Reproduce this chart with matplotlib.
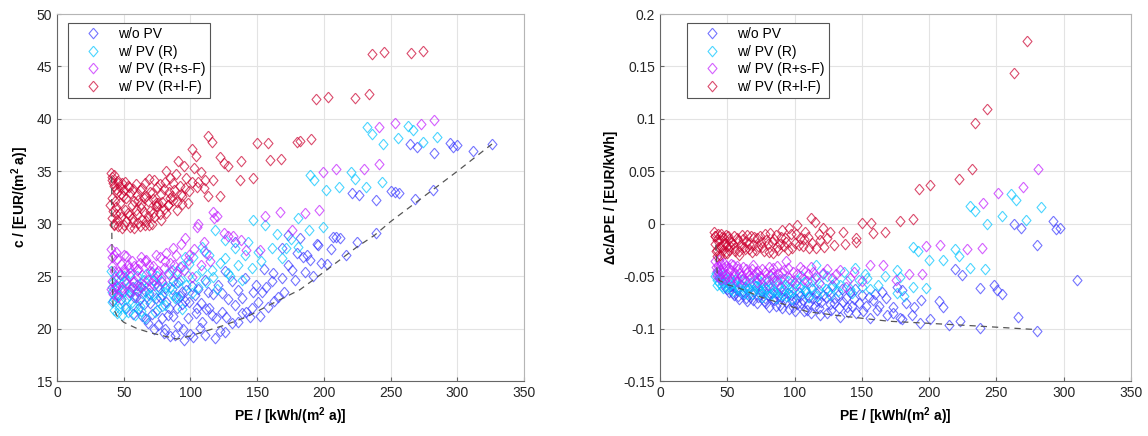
import numpy as np
import matplotlib
matplotlib.use('Agg')
import matplotlib.pyplot as plt

plt.rcParams['font.family'] = ['Liberation Sans', 'DejaVu Sans']
plt.rcParams['mathtext.fontset'] = 'custom'
plt.rcParams['mathtext.rm'] = 'Liberation Sans'
plt.rcParams['mathtext.bf'] = 'Liberation Sans:bold'

labels = ['w/o PV', 'w/ PV (R)', 'w/ PV (R+s-F)', 'w/ PV (R+l-F)']

# ---------- left panel: c over PE ----------
blue_c = [(42,22.6),(44,24.0),(46,23.2),(48,22.8),(50,24.5),(52,22.0),(55,23.5),(57,21.4),(60,24.2),(62,22.8),
          (64,21.2),(66,23.6),(68,20.5),(70,22.4),(72,24.6),(73,20.0),(75,21.8),(75.9,20.3),(77,23.0),(78.5,23.2),
          (80,19.6),(81,20.0),(82,22.5),(83.4,21.3),(85,19.3),(86,23.8),(87,24.5),(88.5,19.4),(90,22.0),(91,20.2),
          (92,23.1),(93.4,23.5),(94.7,20.0),(95,18.9),(96,22.6),(98.4,21.0),(100,19.5),(102.2,19.2),(103.4,23.2),
          (105,22.0),(107,20.1),(109,20.6),(110.9,19.4),(112,21.9),(113.4,23.5),(115.9,21.3),(118.4,19.07),
          (120.9,24.2),(122,19.8),(123.4,21.6),(126,19.7),(126,25.5),(128,22.8),(130.9,24.5),(133.4,22.25),
          (133.4,28.3),(135.9,20.65),(138.4,22.9),(140.9,24.8),(142,21.6),(144.7,21.1),(147,23.5),(150.9,22.55),
          (153.4,23.5),(155,25.7),(157,24.0),(160.9,24.5),(163,22.6),(168.4,24.8),(168.4,27.65),(170,23.5),
          (173.4,26.1),(173.4,28.9),(178.4,24.6),(182,28.6),(184.6,26.85),(187.2,27.0),(189.7,26.5),(192,25.0),
          (195.1,28.1),(195.9,28.0),(202.6,26.2),(207.1,28.76),(209,28.7),(212,28.6),(216.4,27.0),(220.9,32.96),
          (225.1,28.3),(226.6,32.74),(238.9,32.26),(239.1,29.1),(250.1,33.1),(253,33.0),(256.1,32.96),(264.6,37.6),
          (268.4,32.4),(270.1,37.35),(282.1,33.2),(282.6,36.7),(294.6,37.7),(297,37.3),(299.6,37.5),(312,36.9),
          (325.8,37.6),
          (58,23.0),(61,21.9),(63,24.0),(65,22.3),(67,20.9),(69,23.4),(71,21.4),(74,22.9),(76,24.1),(79,21.0),
          (81,23.9),(84,22.0),(87,21.2),(89,23.0),(91,24.4),(94,22.3),(97,23.7),(99,22.5),(101,24.1),(104,21.5),
          (106,23.8),(108,22.4),(111,24.6),(114,22.0),(117,23.3),(119,21.0),(124,23.4),(127,21.1),(131,20.5),
          (136,23.7),(139,21.5),(146,22.0),(149,24.2),(152,21.2),(158,22.1),(162,25.3),(166,23.0),(176,25.6),
          (180,27.2),(186,25.4),(198,26.3),(205,27.6)]
cyan_c = [(40.5,25.5),(41,23.5),(41.5,22.5),(42,24.4),(43,21.8),(43.5,25.0),(44,23.0),(45,21.5),(46,24.0),(47,22.4),
          (48,25.1),(49,21.3),(50,23.6),(51,22.0),(52,24.6),(53.4,21.6),(54,23.2),(55,25.3),(56,22.5),(57,24.0),
          (58.5,21.3),(59,23.0),(60,25.0),(62,22.2),(63,24.3),(64,23.4),(66,21.0),(67,25.2),(68,22.8),(70,24.0),
          (72,23.3),(73.5,21.6),(75,25.0),(76,22.6),(78,24.5),(80,23.5),(81,22.25),(83,25.3),(85,24.0),(87,23.2),
          (88.5,22.9),(90,25.5),(92,24.6),(93.5,21.9),(95.9,26.85),(97,24.2),(99,26.2),(101,23.4),(104,25.0),
          (108.4,27.8),(110,27.4),(112,24.4),(115.9,25.6),(118.4,29.4),(120,23.8),(126,28.45),(125.9,26.7),
          (130,25.0),(133.4,27.65),(135.9,26.1),(138.4,24.6),(140.9,27.0),(145.9,25.75),(147.2,30.35),(150.9,27.3),
          (156,29.9),(160.9,27.65),(168.4,26.7),(175,28.5),(180.9,30.5),(180.9,27.8),(189.1,29.4),(189.7,34.65),
          (192.9,34.2),(199.6,29.7),(201.4,33.2),(211.6,33.5),(220.4,34.9),(223.4,34.3),(231.6,33.5),(232.1,39.2),
          (235.9,38.6),(243.4,34.0),(244.1,37.6),(255.6,38.15),(262.9,39.35),(267.1,38.9),(274.6,37.8),(285.1,38.3),
          (41,24.0),(42.5,22.8),(44.5,24.6),(46.5,22.0),(48.5,23.7),(50.5,25.0),(52.5,22.9),(55.5,23.8),(57.5,22.2),
          (61,23.6),(63,21.7),(65,24.6),(69,23.2),(71,25.4),(74,24.3),(77,23.8),(79,22.2),(82,24.0),(86,25.6),
          (89,24.3),(91,23.0),(94,26.0),(98,25.0),(102,26.8),(106,24.0),(109,25.6),(114,27.0),(117,24.9),
          (122,26.3),(128,25.3),(143,28.3),(153,26.4),(165,29.0),(172,27.7)]
magenta_c = [(40.5,27.6),(41,26.0),(41.5,24.5),(42,23.3),(42.5,27.0),(43,25.5),(44,24.2),(45,26.6),(46,23.0),(47,25.2),
             (48,26.2),(49,24.0),(50,27.0),(51,25.4),(52,24.3),(53,26.1),(54,23.5),(55,25.0),(56,26.4),(57,24.4),
             (58,24.5),(59,23.0),(60,25.6),(61,25.7),(62,24.0),(63,26.8),(64,25.1),(66,26.4),(67,26.5),(68,24.6),
             (70,25.5),(72,26.0),(73,24.2),(75,25.3),(77,26.85),(78,24.8),(80,25.8),(82,27.2),(85,26.3),(87,27.65),
             (88,26.1),(90,25.2),(93,28.1),(95,25.6),(96,28.6),(99,27.0),(101,24.95),(105,29.7),(106,30.0),(108,26.1),
             (112,27.2),(117,31.15),(118,30.5),(120,30.7),(125,29.1),(128,28.8),(132,28.8),(138,28.4),(142,27.5),
             (152,27.5),(156,30.7),(167,31.15),(176,29.4),(186,31.0),(196,31.3),(199.6,34.9),(209,35.2),(230,35.2),
             (241,35.7),(241.6,39.25),(253,39.6),(272.6,39.5),(282.6,39.9),
             (40.5,23.8),(41.5,26.8),(43,23.9),(44.5,27.3),(46,25.4),(48,23.6),(50,25.7),(52,26.9),(54,25.8),
             (56,24.0),(58,26.0),(60,23.6),(62,26.3),(65,24.2),(69,26.1),(71,24.3),(74,27.0),(76,25.5),(79,24.4),
             (81,26.4),(84,25.2),(89,27.0),(92,25.9),(98,26.5),(103,27.6),(110,28.3),(115,26.4)]
red_c = [(40.5,34.8),(41,34.5),(41.5,34.2),(42,33.9),(42.5,33.6),(43,34.6),(44,33.3),(45,33.0),(46,34.1),(47,33.5),
         (48,32.8),(49,33.9),(50,33.2),(52,32.5),(53,33.6),(55,32.9),(57,33.3),(58,32.2),(60,32.7),(62,33.2),
         (63,31.9),(65,32.5),(66,33.9),(68,32.2),(70,33.0),(72,32.4),(73,34.2),(75,33.5),(76,32.0),(78,32.8),
         (80,33.3),(82,35.0),(83,31.8),(85,34.4),(86,32.6),(88,33.2),(90,32.1),(91,36.0),(93,32.8),(95,35.5),
         (96,33.4),(98,32.0),(101,34.0),(101,37.1),(104,36.5),(105,33.5),(108,34.9),(111,34.2),(113,38.4),
         (113,32.6),(116,37.8),(117,34.2),(122,36.4),(122,32.6),(125,35.8),(128,35.5),(137,34.2),(138,36.0),
         (147,34.4),(150,37.7),(158,37.7),(160,36.05),(168,36.2),(180,37.8),(182,37.9),(190,38.1),
         (40,31.8),(41,30.5),(42,31.2),(43,30.0),(44,31.6),(45,30.4),(46,29.8),(47,31.0),(48,30.6),(50,29.9),
         (51,31.3),(52,30.3),(54,30.8),(55,29.7),(57,30.2),(58,29.6),(60,30.9),(61,30.1),(63,31.5),(64,30.4),
         (66,29.9),(68,30.7),(70,31.2),(71,30.0),(73,30.6),(75,31.7),(77,30.9),(80,31.4),(83,31.8),(87,32.3),
         (41.5,32.5),(43.5,32.2),(45.5,33.9),(47.5,32.0),(49.5,32.6),(51,34.0),(54,33.5),(56,31.8),(59,33.8),
         (61,32.3),(64,33.4),(67,32.6),(69,34.3),(71,32.9),(74,31.7),(77,33.8),(79,32.1),(81,34.0),(84,33.0),
         (87,33.9),(89,34.7),(92,33.6),(94,31.9),(97,34.4),(99,33.1),(103,35.3),(106,34.0),(110,33.4),
         (42.5,29.9),(44.5,30.9),(49,29.6),(53,31.0),(56,30.5),(59,31.3),(62,29.8),(65,31.1),(67,30.3),
         (69,29.9),(72,31.0),(74,32.0),(78,30.4),(82,31.0),(85,32.5),(90,31.3),(94,32.6),
         (193.9,41.87),(202.9,42.06),(223.6,42.02),(233.7,42.4),(235.9,46.16),(245.1,46.35),(265.4,46.3),(274.6,46.5)]
front_c = [(41,34.5),(41,30),(41.5,25),(42,22),(45,21.2),(50,20.6),(60,20.0),(70,19.6),(80,19.3),(90,19.0),
           (100,19.3),(115,19.9),(125,20.3),(142,21.1),(160,22.3),(182,23.7),(197,25.1),(225,27.8),(238,28.9),
           (250,30.2),(275,32.6),(300,35.0),(326,37.6)]

# ---------- right panel: delta c / delta PE over PE ----------
blue_d = [(44,-0.052),(47,-0.057),(50,-0.062),(52,-0.055),(54,-0.066),(56,-0.060),(58,-0.069),(60,-0.058),(62,-0.064),
          (64,-0.071),(66,-0.062),(68,-0.067),(69.4,-0.073),(71,-0.059),(73,-0.070),(75,-0.064),(77,-0.074),(79,-0.076),
          (80,-0.068),(82,-0.061),(84,-0.072),(86,-0.078),(87,-0.066),(89,-0.0775),(90,-0.070),(92,-0.063),(94,-0.075),
          (96,-0.081),(97,-0.068),(99,-0.079),(101,-0.072),(103,-0.065),(105,-0.076),(107,-0.083),(109,-0.082),
          (111,-0.070),(113,-0.062),(115,-0.078),(117,-0.074),(119,-0.087),(121,-0.068),(124,-0.085),(126,-0.077),
          (128,-0.058),(130,-0.071),(134,-0.089),(136,-0.075),(139,-0.079),(141,-0.065),(144,-0.072),(146,-0.085),
          (150,-0.068),(153,-0.078),(156,-0.090),(158,-0.073),(161,-0.082),(165,-0.065),(168,-0.071),(168.5,-0.087),
          (173,-0.079),(173.5,-0.085),(176,-0.060),(178,-0.090),(180,-0.063),(180,-0.091),(183,-0.076),(187,-0.087),
          (188.5,-0.079),(193,-0.095),(194,-0.073),(200.6,-0.091),(207,-0.074),(210,-0.079),(214.5,-0.097),
          (219,-0.043),(223,-0.093),(224.6,-0.049),(237.5,-0.061),(237.5,-0.099),(248,-0.058),(250.7,-0.063),
          (254,-0.067),(263,0.000),(266.3,-0.089),(268.3,-0.004),(280,-0.020),(280,-0.102),(292,0.003),
          (294.3,-0.005),(297,-0.004),(309.6,-0.054),
          (48,-0.060),(51,-0.065),(53,-0.059),(55,-0.068),(57,-0.063),(59,-0.072),(61,-0.067),(63,-0.060),
          (65,-0.074),(67,-0.070),(70,-0.064),(72,-0.076),(74,-0.067),(76,-0.061),(78,-0.071),(81,-0.079),
          (83,-0.066),(85,-0.073),(88,-0.069),(91,-0.080),(93,-0.071),(95,-0.066),(98,-0.074),(100,-0.083),
          (102,-0.077),(104,-0.069),(106,-0.073),(108,-0.064),(110,-0.077),(112,-0.085),(114,-0.071),(116,-0.066),
          (118,-0.080),(120,-0.075),(123,-0.070),(125,-0.064),(127,-0.082),(129,-0.076),(132,-0.068),(133,-0.080),
          (135,-0.062),(138,-0.071),(140,-0.084),(143,-0.078),(145,-0.062),(148,-0.076),(151,-0.083),(155,-0.070),
          (160,-0.067),(163,-0.078)]
cyan_d = [(41,-0.050),(42,-0.054),(43,-0.046),(44,-0.057),(45,-0.052),(46,-0.059),(47,-0.049),(48,-0.056),(50,-0.060),
          (51,-0.053),(53,-0.062),(55,-0.057),(57,-0.051),(59,-0.063),(60,-0.058),(62,-0.066),(64,-0.055),(66,-0.061),
          (68,-0.067),(70,-0.058),(72,-0.052),(74,-0.064),(76,-0.070),(78,-0.060),(80,-0.055),(82,-0.067),(84,-0.062),
          (86,-0.071),(88,-0.058),(90,-0.064),(92,-0.053),(94,-0.069),(96,-0.061),(98,-0.072),(100,-0.057),
          (103,-0.066),(105,-0.050),(108,-0.062),(110,-0.070),(113,-0.055),(116,-0.039),(118,-0.063),(121,-0.048),
          (124,-0.050),(126,-0.068),(130,-0.056),(134,-0.058),(137,-0.046),(141,-0.062),(145,-0.042),(148,-0.054),
          (150,-0.060),(154,-0.052),(156,-0.062),(162,-0.058),(167,-0.050),(176,-0.044),(176,-0.066),(178,-0.051),
          (181,-0.069),(188,-0.022),(188,-0.060),(192,-0.026),(198,-0.061),(200,-0.035),(210,-0.035),(219,-0.024),
          (222,-0.031),(230,-0.042),(230,0.017),(234,0.012),(241.5,-0.043),(243,0.000),(254,0.007),(261,0.028),
          (264.5,0.023),(272,0.004),(283,0.016),
          (41.5,-0.047),(42.5,-0.058),(44.5,-0.053),(46.5,-0.061),(48.5,-0.052),(52,-0.058),(54,-0.064),(56,-0.054),
          (58,-0.060),(61,-0.054),(63,-0.061),(65,-0.067),(67,-0.057),(69,-0.063),(71,-0.055),(73,-0.060),
          (75,-0.056),(77,-0.065),(79,-0.062),(81,-0.059),(83,-0.052),(85,-0.065),(87,-0.054),(89,-0.061),
          (91,-0.068),(93,-0.058),(95,-0.055),(97,-0.065),(99,-0.062),(102,-0.054),(104,-0.060),(107,-0.056),
          (109,-0.065),(112,-0.060),(115,-0.052),(117,-0.069),(120,-0.058),(123,-0.062),(128,-0.060),(132,-0.064),
          (139,-0.055),(143,-0.066),(152,-0.048)]
magenta_d = [(41,-0.036),(42,-0.045),(43,-0.040),(44,-0.050),(45,-0.038),(46,-0.047),(47,-0.042),(48,-0.053),
             (49,-0.040),(50,-0.048),(52,-0.044),(53,-0.052),(54,-0.039),(56,-0.047),(57,-0.055),(58,-0.043),
             (60,-0.050),(62,-0.041),(63,-0.054),(65,-0.046),(67,-0.052),(68,-0.043),(70,-0.049),(72,-0.056),
             (73,-0.045),(75,-0.052),(78,-0.046),(80,-0.058),(82,-0.049),(84,-0.042),(86,-0.055),(88,-0.048),
             (90,-0.060),(92,-0.044),(94,-0.036),(96,-0.052),(99,-0.046),(101,-0.058),(104,-0.041),(107,-0.053),
             (110,-0.048),(114,-0.046),(118,-0.057),(124,-0.043),(128,-0.052),(134,-0.044),(138,-0.060),
             (144,-0.046),(150,-0.055),(156,-0.039),(166,-0.039),(175,-0.054),(185,-0.048),(195,-0.048),
             (198,-0.021),(208,-0.020),(228.5,-0.024),(239.5,-0.023),(240.3,0.020),(251,0.029),(270,0.035),
             (281,0.052),
             (41.5,-0.041),(42.5,-0.050),(43.5,-0.035),(44.5,-0.044),(45.5,-0.053),(47.5,-0.037),(49.5,-0.051),
             (51,-0.042),(52.5,-0.038),(55,-0.050),(57.5,-0.040),(59,-0.047),(61,-0.053),(64,-0.043),(66,-0.049),
             (69,-0.039),(71,-0.046),(74,-0.050),(76,-0.043),(79,-0.053),(81,-0.041),(83,-0.047),(85,-0.051),
             (87,-0.040),(89,-0.053),(91,-0.047),(95,-0.042),(98,-0.055),(102,-0.048),(106,-0.044),(109,-0.055),
             (112,-0.041),(116,-0.050),(121,-0.047),(131,-0.048),(141,-0.052)]
red_d = [(40,-0.008),(40.5,-0.019),(41,-0.012),(42,-0.025),(42,-0.031),(43,-0.010),(44,-0.016),(45,-0.022),
         (46,-0.013),(47,-0.025),(48,-0.018),(49,-0.011),(50,-0.028),(51,-0.015),(52,-0.021),(54,-0.019),
         (55,-0.012),(56,-0.026),(58,-0.016),(59,-0.030),(60,-0.020),(62,-0.015),(63,-0.024),(65,-0.011),
         (66,-0.019),(68,-0.027),(70,-0.013),(72,-0.014),(73,-0.021),(75,-0.017),(77,-0.026),(78,-0.010),
         (80,-0.019),(82,-0.009),(84,-0.028),(85,-0.015),(87,-0.022),(89,-0.019),(91,-0.006),(93,-0.014),
         (95,-0.025),(97,-0.010),(100,-0.018),(102,-0.001),(104,-0.014),(106,-0.021),(108,-0.008),(111,-0.023),
         (112,0.005),(115,0.002),(116,-0.023),(119,-0.016),(121,-0.004),(122,-0.022),(126,-0.008),(136,-0.008),
         (137.5,-0.019),(145.6,-0.017),(145.6,-0.014),(150,0.0005),(157,0.001),(158.5,-0.009),(167,-0.008),
         (178,0.0026),(188,0.0045),(192.5,0.033),(201,0.037),(222,0.043),(232,0.052),(234,0.096),(243,0.109),
         (263,0.144),(272.5,0.1745),
         (40.5,-0.012),(41.5,-0.026),(42.5,-0.016),(43.5,-0.022),(44.5,-0.030),(45.5,-0.010),(46.5,-0.019),
         (47.5,-0.014),(48.5,-0.028),(49.5,-0.021),(50.5,-0.012),(51.5,-0.025),(53,-0.017),(55,-0.023),
         (57,-0.014),(58.5,-0.026),(61,-0.011),(62.5,-0.022),(64,-0.017),(66.5,-0.024),(67.5,-0.012),(69,-0.020),
         (71,-0.025),(74,-0.012),(76,-0.022),(79,-0.016),(81,-0.027),(83,-0.017),(86,-0.011),(88,-0.025),
         (90,-0.013),(92,-0.021),(94,-0.017),(96,-0.004),(98,-0.023),(101,-0.010),(103,-0.020),(107,-0.015),
         (110,-0.013),(113,-0.018),(118,-0.010),(124,-0.014),(129,-0.020)]
front_d = [(41.5,-0.02),(42,-0.035),(42.5,-0.047),(44,-0.054),(50,-0.058),(60,-0.062),(75,-0.070),(90,-0.076),
           (110,-0.084),(135,-0.088),(170,-0.093),(200,-0.095),(235,-0.0975),(280,-0.101)]

colors = ['#3a3aff', '#00c4ff', '#c21cff', '#cc0030']
diamond = [(0, 1), (0.85, 0), (0, -1), (-0.85, 0), (0, 1)]

fig = plt.figure(figsize=(11.48, 4.36), dpi=100)
ax1 = fig.add_axes([57/1148, 55/436, 467/1148, 367/436])
ax2 = fig.add_axes([660/1148, 55/436, 471/1148, 367/436])


def style(ax):
    ax.grid(True, color='#e3e3e3', linewidth=0.8)
    ax.set_axisbelow(True)
    for s in ['left', 'bottom']:
        ax.spines[s].set_color('#666666')
    for s in ['top', 'right']:
        ax.spines[s].set_color('#b5b5b5')
    ax.tick_params(direction='in', length=3, color='#666666', labelsize=10, labelcolor='#262626')


panels = [(ax1, [blue_c, cyan_c, magenta_c, red_c], front_c, 0.0236),
          (ax2, [blue_d, cyan_d, magenta_d, red_d], front_d, 0.057)]
for ax, series, front, lx in panels:
    for pts, col, lab in zip(series, colors, labels):
        arr = np.array(pts)
        ax.plot(arr[:, 0], arr[:, 1], linestyle='none', marker=diamond, ms=7.6,
                mfc='none', mec=col, mew=0.8, alpha=0.7, label=lab)
    fr = np.array(front)
    ax.plot(fr[:, 0], fr[:, 1], linestyle=(0, (5, 4)), color='#555555', lw=0.9)
    style(ax)
    ax.set_xlim(0, 350)
    ax.set_xticks(range(0, 351, 50))
    leg = ax.legend(loc='upper left', bbox_to_anchor=(lx, 0.9755), borderaxespad=0,
                    fontsize=10, handlelength=3.0, handletextpad=0.3, labelspacing=0.25,
                    borderpad=0.3, fancybox=False, framealpha=1, edgecolor='#555555')
    leg.get_frame().set_linewidth(0.8)
    ax.set_xlabel(r'PE / [kWh/(m$^{\mathbf{2}}$ a)]', fontsize=10, fontweight='bold')

ax1.set_ylim(15, 50)
ax1.set_yticks(range(15, 51, 5))
ax1.set_ylabel(r'c / [EUR/(m$^{\mathbf{2}}$ a)]', fontsize=10, fontweight='bold')

ax2.set_ylim(-0.15, 0.2)
ax2.set_yticks([-0.15, -0.1, -0.05, 0, 0.05, 0.1, 0.15, 0.2])
ax2.set_yticklabels(['-0.15', '-0.1', '-0.05', '0', '0.05', '0.1', '0.15', '0.2'])
ax2.set_ylabel('\u0394c/\u0394PE / [EUR/kWh]', fontsize=10, fontweight='bold')

fig.savefig('out.png', dpi=100)
